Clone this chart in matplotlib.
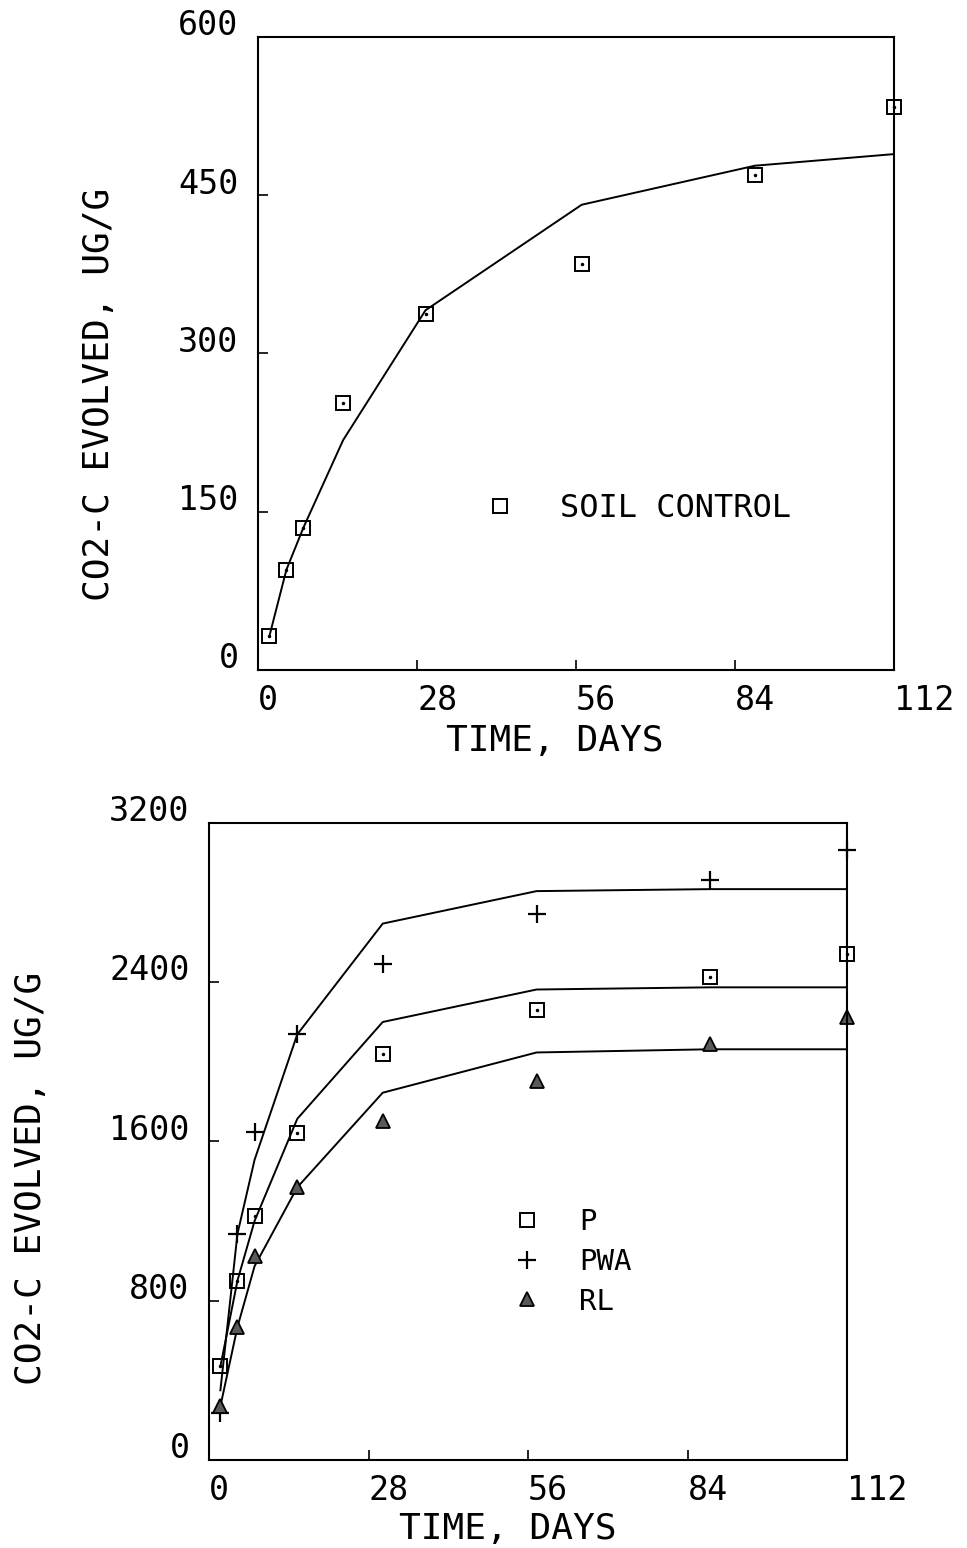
import numpy as np
import matplotlib
matplotlib.use("Agg")
import matplotlib.pyplot as plt
from matplotlib.lines import Line2D
import matplotlib.transforms as mtransforms

plt.rcParams['font.family'] = ['DejaVu Sans Mono']

# soil control panel
top_days = [2, 5, 8, 15, 29.5, 57, 87.5, 112]
top_obs = [32, 95, 135, 253, 337, 385, 469, 534]
top_fit = [32, 95, 135, 218, 341, 441, 478, 489]

# amended soils panel
bot_days = [2, 5, 8, 15.5, 30.5, 57.5, 88, 112]
p_obs = [472, 901, 1223, 1641, 2040, 2257, 2425, 2541]
pwa_obs = [235, 1136, 1648, 2137, 2490, 2743, 2911, 3063]
rl_obs = [270, 668, 1023, 1369, 1702, 1903, 2090, 2225]
p_fit = [470, 901, 1200, 1713, 2199, 2362, 2373, 2373]
pwa_fit = [350, 1136, 1507, 2137, 2693, 2856, 2866, 2866]
rl_fit = [270, 668, 973, 1369, 1844, 2046, 2062, 2062]

x_ticks = [0, 28, 56, 84, 112]
top_yticks = [0, 150, 300, 450, 600]
bot_yticks = [0, 800, 1600, 2400, 3200]

FS = 24
LFS = 26
fig = plt.figure(figsize=(9.67, 15.48), dpi=100)
ax1 = fig.add_axes([258/967, 1-670/1548, 636/967, 633/1548])
ax2 = fig.add_axes([209/967, 1-1460/1548, 638/967, 637.4/1548])

sq = dict(marker='s', ms=9.5, mfc='none', mec='k', mew=1.4, ls='none', clip_on=False)
dot = dict(marker='.', ms=3, color='k', ls='none', clip_on=False)
tri = dict(marker='^', ms=10, mfc='0.35', mec='k', mew=1.3, ls='none', clip_on=False)
plus = dict(marker='+', ms=13, mec='k', mew=1.6, ls='none', clip_on=False)


def style(ax, yticks, ymax):
    ax.set_xlim(0, 112)
    ax.set_ylim(0, ymax)
    ax.set_xticks(x_ticks)
    ax.set_yticks(yticks)
    ax.set_xticklabels([str(v) for v in x_ticks])
    ax.set_yticklabels([str(v) for v in yticks])
    ax.tick_params(direction='in', length=7, width=1.2, labelsize=FS)
    ax.tick_params(axis='x', pad=10)
    ax.tick_params(axis='y', pad=14)
    for lab in ax.get_xticklabels():
        lab.set_horizontalalignment('left')
    off = mtransforms.ScaledTranslation(0, 11/100, fig.dpi_scale_trans)
    for lab in ax.get_yticklabels():
        lab.set_verticalalignment('center')
        lab.set_transform(lab.get_transform() + off)
    for s in ax.spines.values():
        s.set_linewidth(1.5)
    ax.set_xlabel('TIME, DAYS', fontsize=LFS)
    ax.set_ylabel('CO2-C EVOLVED, UG/G', fontsize=LFS)


# top panel
ax1.plot(top_days, top_fit, color='k', lw=1.4)
ax1.plot(top_days, top_obs, **sq)
ax1.plot(top_days, top_obs, **dot)
style(ax1, top_yticks, 600)
ax1.xaxis.set_label_coords(0.467, -0.085)
ax1.yaxis.set_label_coords(-0.223, 0.436)
h1 = [Line2D([], [], **sq)]
ax1.legend(h1, ['SOIL CONTROL'], loc='center left', bbox_to_anchor=(0.355, 0.255),
           frameon=False, fontsize=FS - 1, handlelength=1.0, handletextpad=1.4,
           borderpad=0, borderaxespad=0)

# bottom panel
ax2.plot(bot_days, pwa_fit, color='k', lw=1.4)
ax2.plot(bot_days, p_fit, color='k', lw=1.4)
ax2.plot(bot_days, rl_fit, color='k', lw=1.4)
ax2.plot(bot_days, p_obs, **sq)
ax2.plot(bot_days, p_obs, **dot)
ax2.plot(bot_days, pwa_obs, **plus)
ax2.plot(bot_days, rl_obs, **tri)
style(ax2, bot_yticks, 3200)
ax2.xaxis.set_label_coords(0.469, -0.082)
ax2.yaxis.set_label_coords(-0.252, 0.442)
h2 = [Line2D([], [], **sq), Line2D([], [], **plus), Line2D([], [], **tri)]
ax2.legend(h2, ['P', 'PWA', 'RL'], loc='upper left', bbox_to_anchor=(0.475, 0.395),
           frameon=False, fontsize=FS - 3, handlelength=1.0, handletextpad=1.3,
           labelspacing=0.4, borderpad=0, borderaxespad=0)

fig.savefig('out.png', dpi=100)
